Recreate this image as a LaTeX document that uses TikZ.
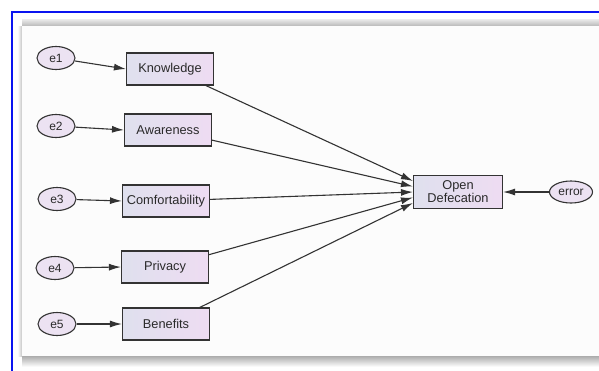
\documentclass[tikz,border=0pt]{standalone}
\usepackage{fontspec}
\setmainfont{Liberation Sans}
\usetikzlibrary{arrows.meta,shapes.geometric,calc}
\definecolor{linec}{HTML}{333333}
\definecolor{txtc}{HTML}{2A2A2A}
\definecolor{boxl}{HTML}{DFE0EE}
\definecolor{boxr}{HTML}{EEDCF2}
\definecolor{ellf}{HTML}{ECE2F2}
\definecolor{frameblue}{HTML}{0A14F0}
\tikzset{
  varbox/.style={draw=linec, line width=1.1pt, left color=boxl, right color=boxr,
    minimum width=87pt, minimum height=32pt, inner sep=0pt, text=txtc,
    font=\fontsize{12.8}{13}\selectfont, align=center},
  errell/.style={ellipse, draw=linec, line width=1.1pt, fill=ellf,
    minimum width=38pt, minimum height=23pt, inner sep=0pt, text=txtc,
    font=\fontsize{12}{13}\selectfont},
  path/.style={draw=linec, line width=1.1pt, -{Latex[length=12pt,width=7pt]}}
}
\begin{document}
\begin{tikzpicture}[x=1pt,y=-1pt]
\useasboundingbox (0,0) rectangle (599,370);
\clip (0,0) rectangle (599,370);
\fill[white] (0,0) rectangle (599,370);
% blue frame
\draw[frameblue, line width=1.6pt] (12,12) rectangle (640,400);
% panel shadows
\shade[top color=gray!15, bottom color=gray!55] (22,19) rectangle (640,26);
\shade[top color=gray!65, bottom color=gray!5] (22,356) rectangle (640,366);
\shade[left color=gray!5, right color=gray!45] (18,26) rectangle (22,356);
\fill[white!98!gray] (22,26) rectangle (640,356);

% nodes
\node[errell] (e1) at (56,58) {e1};
\node[errell] (e2) at (56,126) {e2};
\node[errell] (e3) at (57,199) {e3};
\node[errell] (e4) at (55,268) {e4};
\node[errell] (e5) at (57,324) {e5};

\node[varbox] (kn) at (170,69) {Knowledge};
\node[varbox] (aw) at (168,130) {Awareness};
\node[varbox] (co) at (166,201) {Comfortability};
\node[varbox] (pr) at (165,267) {Privacy};
\node[varbox] (be) at (166,324) {Benefits};

\node[varbox, minimum width=89pt, minimum height=33pt] (od) at (458,192) {Open\\Defecation};
\node[errell, minimum width=43pt, minimum height=22pt] (err) at (571,192) {error};

% entry points on Open Defecation
\coordinate (t1) at ([yshift=11pt]od.west);
\coordinate (t2) at ([yshift=5.5pt]od.west);
\coordinate (t3) at (od.west);
\coordinate (t4) at ([yshift=-5.5pt]od.west);
\coordinate (t5) at ([yshift=-11pt]od.west);

% connectors
\draw[path] (e1) -- (kn.west);
\draw[path] (e2) -- (aw.west);
\draw[path] (e3) -- (co.west);
\draw[path] (e4) -- (pr.west);
\draw[path] (e5) -- (be.west);

\draw[path] (kn) -- (t1);
\draw[path] (aw) -- (t2);
\draw[path] (co) -- (t3);
\draw[path] (pr) -- (t4);
\draw[path] (be) -- (t5);
\draw[path] (err) -- (od.east);
\end{tikzpicture}
\end{document}
